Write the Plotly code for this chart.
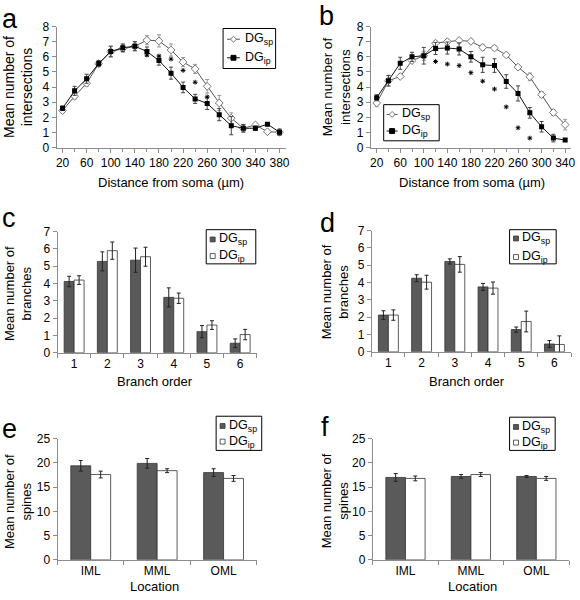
import plotly.graph_objects as go

W, H = 580, 600

# ---------------- data ----------------
dist_a = [20, 40, 60, 80, 100, 120, 140, 160, 180, 200, 220, 240, 260, 280, 300, 320, 340, 360, 380]
a_sp = [2.45, 3.4, 4.25, 5.55, 6.35, 6.55, 6.7, 7.1, 7.05, 6.45, 5.65, 5.2, 4.05, 2.95, 1.95, 1.28, 1.5, 1.05, 1.02]
a_sp_err = [0.15, 0.2, 0.2, 0.2, 0.35, 0.25, 0.3, 0.3, 0.4, 0.4, 0.3, 0.3, 0.45, 0.5, 0.35, 0.25, 0.1, 0.1, 0.2]
a_ip = [2.6, 3.75, 4.55, 5.55, 6.35, 6.6, 6.7, 6.35, 5.75, 4.92, 3.98, 3.22, 2.92, 2.18, 1.45, 1.28, 1.28, 1.55, 1.02]
a_ip_err = [0.15, 0.3, 0.3, 0.2, 0.35, 0.25, 0.3, 0.3, 0.3, 0.4, 0.35, 0.3, 0.4, 0.4, 0.6, 0.25, 0.15, 0.1, 0.2]
a_star_x = [160, 180, 200, 220, 240, 260]
a_star_y = [6.12, 6.05, 5.85, 5.1, 4.32, 3.35]

dist_b = [20, 40, 60, 80, 100, 120, 140, 160, 180, 200, 220, 240, 260, 280, 300, 320, 340]
b_sp = [2.95, 4.42, 4.7, 5.75, 6.07, 6.9, 7.0, 7.08, 7.02, 6.62, 6.58, 6.12, 5.32, 4.68, 3.5, 2.32, 1.52]
b_sp_err = [0.25, 0.35, 0.15, 0.15, 0.3, 0.15, 0.15, 0.15, 0.15, 0.2, 0.15, 0.1, 0.15, 0.25, 0.2, 0.2, 0.35]
b_ip = [3.3, 4.42, 5.57, 6.0, 6.07, 6.55, 6.58, 6.52, 6.0, 5.47, 5.42, 4.37, 3.58, 2.3, 1.38, 0.63, 0.5]
b_ip_err = [0.2, 0.35, 0.4, 0.3, 0.55, 0.4, 0.4, 0.4, 0.35, 0.5, 0.45, 0.45, 0.5, 0.35, 0.35, 0.25, 0.1]
b_star_x = [120, 140, 160, 180, 200, 220, 240, 260, 280]
b_star_y = [5.69, 5.52, 5.42, 4.95, 4.39, 3.87, 2.69, 1.31, 0.63]

order = [1, 2, 3, 4, 5, 6]
c_sp = [4.12, 5.28, 5.35, 3.2, 1.22, 0.55]
c_sp_err = [0.3, 0.55, 0.7, 0.55, 0.35, 0.25]
c_ip = [4.2, 5.9, 5.55, 3.15, 1.6, 1.05]
c_ip_err = [0.25, 0.5, 0.55, 0.3, 0.25, 0.3]

d_sp = [2.12, 4.25, 5.22, 3.75, 1.28, 0.45]
d_sp_err = [0.25, 0.2, 0.15, 0.2, 0.15, 0.2]
d_ip = [2.12, 4.02, 5.05, 3.68, 1.75, 0.42]
d_ip_err = [0.3, 0.4, 0.45, 0.35, 0.6, 0.5]

locations = ["IML", "MML", "OML"]
e_sp = [19.4, 19.9, 18.0]
e_sp_err = [1.1, 1.0, 0.8]
e_ip = [17.6, 18.4, 16.8]
e_ip_err = [0.7, 0.4, 0.6]

f_sp = [17.0, 17.2, 17.2]
f_sp_err = [0.8, 0.4, 0.2]
f_ip = [16.8, 17.6, 16.8]
f_ip_err = [0.5, 0.4, 0.4]

ticks_a = [20, 60, 100, 140, 180, 220, 260, 300, 340, 380]
ticks_b = [20, 60, 100, 140, 180, 220, 260, 300, 340]

NAME_SP = "DG<sub>sp</sub>"
NAME_IP = "DG<sub>ip</sub>"

# ---------------- styles ----------------
FONT = "Liberation Sans, Arial, sans-serif"
DARK = "#5a5a5a"
AXC = "#8c8c8c"
SP_LINE = "#555555"
SP_MARK = "#777777"


def px_x(p):
    return p / W


def px_y(p):
    return 1 - p / H


fig = go.Figure()


def line_pair(xs, sp, sperr, ip, iperr, sx, sy, ax):
    xa = "x" if ax == 1 else f"x{ax}"
    ya = "y" if ax == 1 else f"y{ax}"
    fig.add_trace(go.Scatter(
        x=xs, y=sp, name="DGsp", mode="lines+markers", xaxis=xa, yaxis=ya, showlegend=False,
        line=dict(color=SP_LINE, width=1),
        marker=dict(symbol="diamond", size=6, color="white", line=dict(color=SP_MARK, width=1)),
        error_y=dict(type="data", array=sperr, color="#999999", thickness=1, width=2)))
    fig.add_trace(go.Scatter(
        x=xs, y=ip, name="DGip", mode="lines+markers", xaxis=xa, yaxis=ya, showlegend=False,
        line=dict(color="#111111", width=1),
        marker=dict(symbol="square", size=5, color="black"),
        error_y=dict(type="data", array=iperr, color="#444444", thickness=1, width=2)))
    fig.add_trace(go.Scatter(
        x=sx, y=sy, mode="markers", xaxis=xa, yaxis=ya, showlegend=False, hoverinfo="skip",
        marker=dict(symbol="asterisk-open", size=4, color="black", line=dict(color="#222222", width=1))))


def bar_pair(xs, sp, sperr, ip, iperr, ax):
    xa = f"x{ax}"
    ya = f"y{ax}"
    fig.add_trace(go.Bar(
        x=xs, y=sp, name="DGsp", xaxis=xa, yaxis=ya, showlegend=False,
        marker=dict(color=DARK, line=dict(color="#333333", width=0.8)),
        error_y=dict(type="data", array=sperr, color="#222222", thickness=1, width=2)))
    fig.add_trace(go.Bar(
        x=xs, y=ip, name="DGip", xaxis=xa, yaxis=ya, showlegend=False,
        marker=dict(color="white", line=dict(color="#333333", width=0.8)),
        error_y=dict(type="data", array=iperr, color="#222222", thickness=1, width=2)))


line_pair(dist_a, a_sp, a_sp_err, a_ip, a_ip_err, a_star_x, a_star_y, 1)
line_pair(dist_b, b_sp, b_sp_err, b_ip, b_ip_err, b_star_x, b_star_y, 2)
bar_pair(order, c_sp, c_sp_err, c_ip, c_ip_err, 3)
bar_pair(order, d_sp, d_sp_err, d_ip, d_ip_err, 4)
bar_pair(locations, e_sp, e_sp_err, e_ip, e_ip_err, 5)
bar_pair(locations, f_sp, f_sp_err, f_ip, f_ip_err, 6)

# panel geometry (pixels): x0, x1, ytop, ybottom
geo = {
    1: (56, 287, 20, 144),
    2: (373, 575, 20, 144),
    3: (57, 258, 230, 354),
    4: (374, 575, 229, 353),
    5: (57, 258, 442, 566),
    6: (375, 573, 442, 566),
}

tickfont = dict(family=FONT, size=12, color="black")


def xax(i, **kw):
    x0, x1, yt, yb = geo[i]
    base = dict(domain=[px_x(x0), px_x(x1)], anchor=f"y{i}" if i > 1 else "y",
                showline=True, linecolor=AXC, linewidth=1, ticks="outside", tickcolor=AXC,
                ticklen=4, showgrid=False, zeroline=False, tickfont=tickfont, fixedrange=True,
                ticklabeloverflow="allow")
    base.update(kw)
    return base


def yax(i, rng, dt):
    x0, x1, yt, yb = geo[i]
    return dict(domain=[px_y(yb), px_y(yt)], anchor=f"x{i}" if i > 1 else "x",
                range=rng, dtick=dt, tick0=0, showline=True, linecolor=AXC, linewidth=1,
                ticks="outside", tickcolor=AXC, ticklen=4, showgrid=False, zeroline=False,
                tickfont=tickfont, fixedrange=True)


layout = dict(
    width=W, height=H, margin=dict(l=0, r=0, t=0, b=0),
    paper_bgcolor="white", plot_bgcolor="white",
    font=dict(family=FONT, color="black"),
    barmode="group", bargap=0.4, bargroupgap=0.0, showlegend=False,
)

cat_bounds6 = [0.5, 1.5, 2.5, 3.5, 4.5, 5.5, 6.5]
cat_bounds3 = [-0.5, 0.5, 1.5, 2.5]
layout["xaxis"] = xax(1, range=[10, 390], tickvals=ticks_a,
                      minor=dict(dtick=20, tick0=0, ticks="outside", ticklen=3, tickcolor=AXC))
layout["yaxis"] = yax(1, [0, 8], 1)
layout["xaxis2"] = xax(2, range=[10, 350], tickvals=ticks_b,
                       minor=dict(dtick=20, tick0=0, ticks="outside", ticklen=3, tickcolor=AXC))
layout["yaxis2"] = yax(2, [0, 8], 1)
layout["xaxis3"] = xax(3, range=[0.5, 6.5], tickvals=order, ticks="",
                       minor=dict(tickvals=cat_bounds6, ticks="outside", ticklen=4, tickcolor=AXC))
layout["yaxis3"] = yax(3, [0, 7], 1)
layout["xaxis4"] = xax(4, range=[0.5, 6.5], tickvals=order, ticks="",
                       minor=dict(tickvals=cat_bounds6, ticks="outside", ticklen=4, tickcolor=AXC))
layout["yaxis4"] = yax(4, [0, 7], 1)
layout["xaxis5"] = xax(5, type="category", range=[-0.5, 2.5], ticks="",
                       minor=dict(tickvals=cat_bounds3, ticks="outside", ticklen=4, tickcolor=AXC))
layout["yaxis5"] = yax(5, [0, 25], 5)
layout["xaxis6"] = xax(6, type="category", range=[-0.5, 2.5], ticks="",
                       minor=dict(tickvals=cat_bounds3, ticks="outside", ticklen=4, tickcolor=AXC))
layout["yaxis6"] = yax(6, [0, 25], 5)

fig.update_layout(**layout)

# ---------------- texts ----------------
ann = []
shapes = []


def text(xp, yp, s, size, angle=0, xanchor="center", yanchor="middle"):
    ann.append(dict(x=px_x(xp), y=px_y(yp), xref="paper", yref="paper", text=s,
                    showarrow=False, textangle=angle, xanchor=xanchor, yanchor=yanchor,
                    font=dict(family=FONT, size=size, color="black")))


def rect(x0, y0, x1, y1, fill, line="black", lw=1):
    shapes.append(dict(type="rect", xref="paper", yref="paper",
                       x0=px_x(x0), x1=px_x(x1), y0=px_y(y1), y1=px_y(y0),
                       fillcolor=fill, line=dict(color=line, width=lw)))


def seg(x0, x1, y, color):
    shapes.append(dict(type="line", xref="paper", yref="paper",
                       x0=px_x(x0), x1=px_x(x1), y0=px_y(y), y1=px_y(y),
                       line=dict(color=color, width=1)))


def diamond(cx, cy, r, color):
    pts = [(cx, cy - r), (cx + r, cy), (cx, cy + r), (cx - r, cy)]
    path = "M " + " L ".join(f"{px_x(a):.5f},{px_y(b):.5f}" for a, b in pts) + " Z"
    shapes.append(dict(type="path", xref="paper", yref="paper", path=path,
                       fillcolor="white", line=dict(color=color, width=1)))


LEG_FS = 12.5


def line_legend(box, sym_x0, sym_x1, text_x, row_y):
    bx0, by0, bx1, by1 = box
    rect(bx0, by0, bx1, by1, "white")
    cx = (sym_x0 + sym_x1) / 2
    seg(sym_x0, sym_x1, row_y[0], SP_LINE)
    diamond(cx, row_y[0], 3, SP_MARK)
    seg(sym_x0, sym_x1, row_y[1], "#111111")
    rect(cx - 2.5, row_y[1] - 2.5, cx + 2.5, row_y[1] + 2.5, "black")
    text(text_x, row_y[0], NAME_SP, LEG_FS, xanchor="left")
    text(text_x, row_y[1], NAME_IP, LEG_FS, xanchor="left")


def bar_legend(box, sq_x0, text_x, row_y):
    bx0, by0, bx1, by1 = box
    rect(bx0, by0, bx1, by1, "white")
    rect(sq_x0, row_y[0] - 2.5, sq_x0 + 5, row_y[0] + 2.5, DARK, "#333333", 0.8)
    rect(sq_x0, row_y[1] - 2.5, sq_x0 + 5, row_y[1] + 2.5, "white", "#333333", 0.8)
    text(text_x, row_y[0], NAME_SP, LEG_FS, xanchor="left")
    text(text_x, row_y[1], NAME_IP, LEG_FS, xanchor="left")


line_legend((224, 22, 277, 63), 228, 241, 244, (33, 52))
line_legend((386, 100, 442, 137), 389, 400, 402, (110, 127))
bar_legend((207, 228, 257, 263), 211, 218, (238, 255))
bar_legend((513, 228, 560, 263), 517, 524, (237, 256))
bar_legend((217, 419, 263, 454), 221, 228, (429, 445))
bar_legend((513, 420, 559, 454), 517, 524, (430, 446))

# panel letters
text(-1, 12, "a", 27, xanchor="left")
text(319, 9, "b", 27, xanchor="left")
text(-1, 216, "c", 27, xanchor="left")
text(320, 221, "d", 27, xanchor="left")
text(-1, 432, "e", 27, xanchor="left")
text(321, 430, "f", 27, xanchor="left")

# y titles
text(17, 82, "Mean number of<br>intersections", 14, angle=-90)
text(338, 82, "Mean number of<br>intersections", 13.5, angle=-90)
text(17, 293, "Mean number of<br>branches", 13, angle=-90)
text(337, 292, "Mean number of<br>branches", 13, angle=-90)
text(17, 506, "Mean number of<br>spines", 13, angle=-90)
text(337, 506, "Mean number of<br>spines", 13, angle=-90)

# x titles
text(171, 180, "Distance from soma (µm)", 13)
text(475, 180, "Distance from soma (µm)", 13)
text(155, 383, "Branch order", 13)
text(470, 383, "Branch order", 13)
text(155, 593, "Location", 13)
text(476, 593, "Location", 13)

fig.update_layout(annotations=ann, shapes=shapes)

fig.write_html(
    "out.html",
    config={"displayModeBar": False, "staticPlot": True},
    post_script="document.body.style.margin='0px';document.body.style.overflow='hidden';",
)
